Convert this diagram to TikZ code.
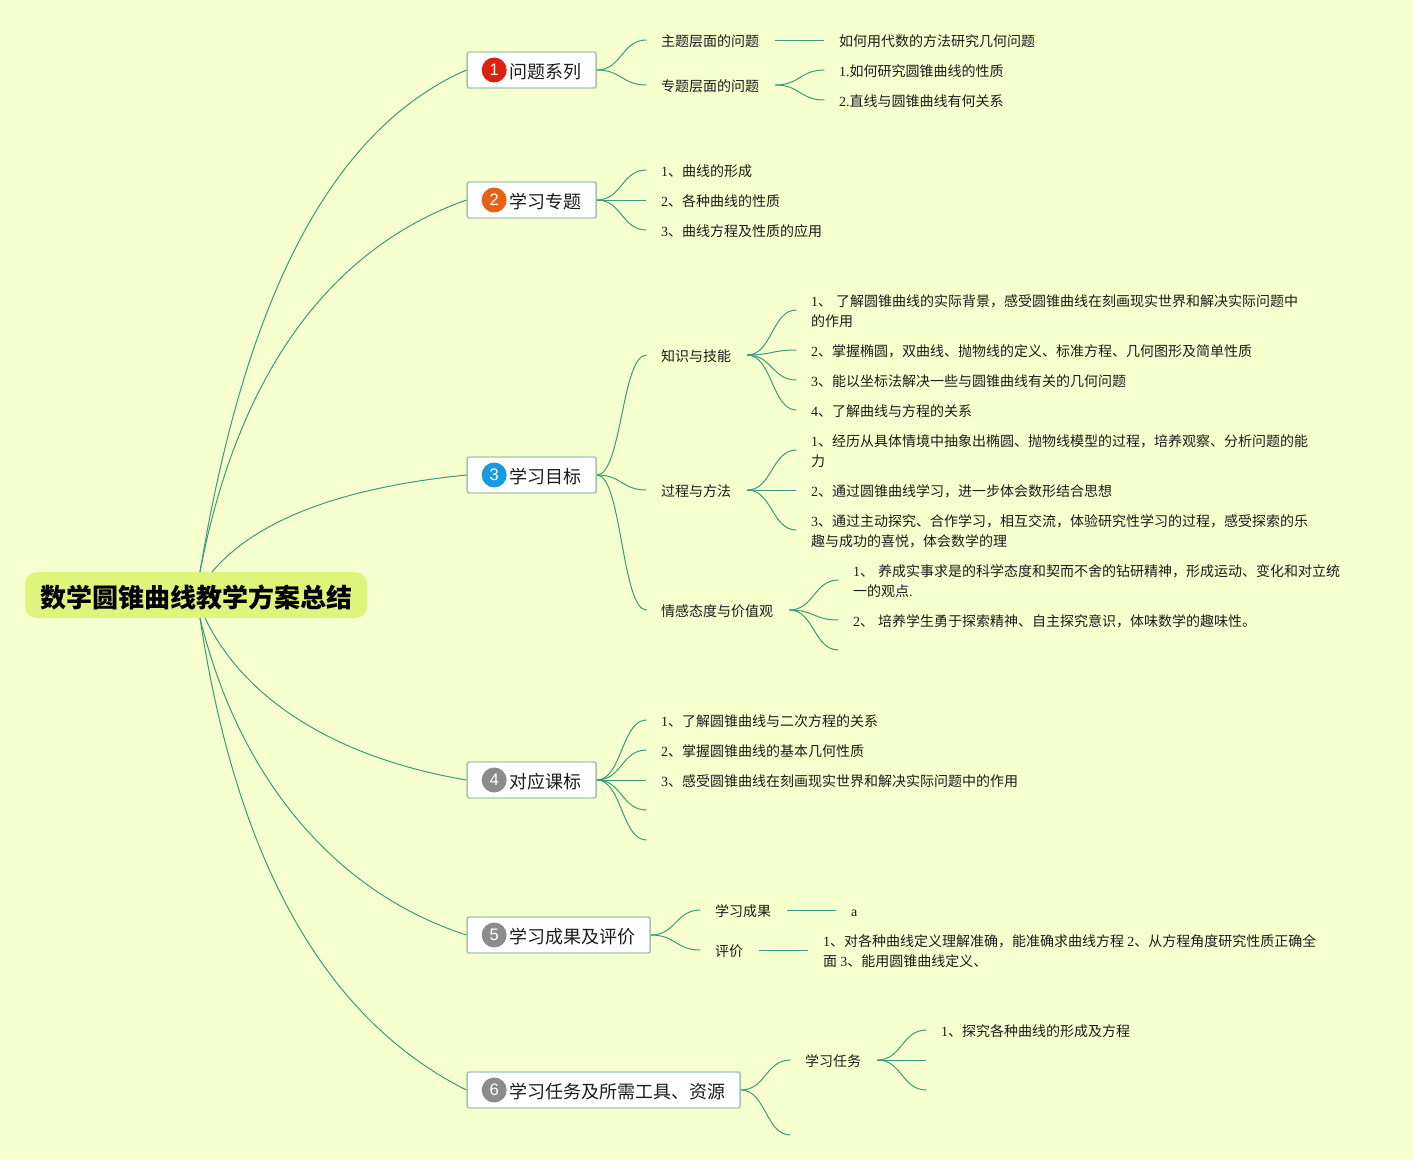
\documentclass[tikz,border=0pt]{standalone}
\usepackage{fontspec}
\usetikzlibrary{calc}
\setmainfont{Noto Sans CJK SC}
\newfontfamily\cjk{Noto Sans CJK SC}
\newfontfamily\lat{Liberation Serif}
\newfontfamily\badgefont{Liberation Sans}
\newcommand{\ltn}[1]{{\lat #1}}
\definecolor{bgc}{HTML}{F6FFCE}
\definecolor{rootc}{HTML}{DEF47A}
\definecolor{linec}{HTML}{3F9A7C}
\definecolor{boxline}{HTML}{A2C5B2}
\definecolor{txt}{HTML}{1C1C1C}
\newcommand{\linkc}[2]{\draw[conn] let \p1=(#1),\p2=(#2),\n1={0.5*\x1+0.5*\x2} in (\p1) .. controls (\n1,\y1) and (\n1,\y2) .. (\p2);}
\tikzset{
 conn/.style={draw=linec,line width=0.75pt},
 rootnode/.style={fill=rootc,rounded corners=9pt,minimum width=256.5pt,minimum height=34.5pt,inner sep=0pt,text height=20pt,text depth=1.8pt,font=\cjk\bfseries\fontsize{19.5}{22}\selectfont,text=black},
 topic/.style={anchor=west,fill=white,draw=boxline,line width=1.1pt,rounded corners=1.5pt,minimum height=27pt,inner xsep=11.25pt,inner ysep=0pt,text height=14.2pt,text depth=1pt,font=\cjk\fontsize{13.5}{16}\selectfont,text=txt},
 badge/.style={circle,minimum size=18.75pt,inner sep=0pt,text=white,font=\badgefont\fontsize{12.5}{12.5}\selectfont},
 lab/.style={anchor=west,inner xsep=10.8pt,inner ysep=0pt,align=left,text height=10pt,text depth=0.6pt,text=txt,font=\cjk\fontsize{10.5}{15}\selectfont},
 labtwo/.style={lab,text height=25pt},
 gapout/.style={xshift=1.2pt},
}
\newcommand{\gap}{\hspace*{20.25pt}}
\begin{document}
\begin{tikzpicture}[x=0.75pt,y=-0.75pt]
\useasboundingbox[fill=bgc] (0,0) rectangle (1413,1160);
% root
\node[rootnode] (root) at (196.3,595) {数学圆锥曲线教学方案总结};
\coordinate (ru) at (200,572);
\coordinate (ru3) at (212,572);
\coordinate (rd) at (200,618);
\coordinate (rd4) at (205,618);
\begin{scope}[xshift=-0.4pt]
% topics
\node[topic] (t1) at (467,70) {\gap 问题系列};
\node[topic] (t2) at (467,200) {\gap 学习专题};
\node[topic] (t3) at (467,475) {\gap 学习目标};
\node[topic] (t4) at (467,780) {\gap 对应课标};
\node[topic] (t5) at (467,935) {\gap 学习成果及评价};
\node[topic] (t6) at (467,1090) {\gap 学习任务及所需工具、资源};
\node[badge,fill={rgb,255:red,222;green,32;blue,14}] (b1) at (494.7,70) {1};
\node[badge,fill={rgb,255:red,230;green,98;blue,18}] (b2) at (494.7,200) {2};
\node[badge,fill={rgb,255:red,24;green,154;blue,224}] (b3) at (494.7,475) {3};
\node[badge,fill=gray!90] (b4) at (494.7,780) {4};
\node[badge,fill=gray!90] (b5) at (494.7,935) {5};
\node[badge,fill=gray!90] (b6) at (494.7,1090) {6};
% root curves
\draw[conn] (ru) .. controls (245,302) and (330,130) .. (t1.west);
\draw[conn] (ru) .. controls (240,365) and (337,246) .. (t2.west);
\draw[conn] (ru3) .. controls (258,518) and (347,487) .. (t3.west);
\draw[conn] (rd4) .. controls (245,700) and (337,758) .. (t4.west);
\draw[conn] (rd) .. controls (240,780) and (337,893) .. (t5.west);
\draw[conn] (rd) .. controls (240,880) and (337,1025) .. (t6.west);
% topic 1
\node[lab] (a1) at (647,40) {主题层面的问题};
\node[lab] (a2) at (647,85) {专题层面的问题};
\node[lab] (a11) at (825,40) {如何用代数的方法研究几何问题};
\node[lab] (a21) at (825,70) {\ltn{1.}如何研究圆锥曲线的性质};
\node[lab] (a22) at (825,100) {\ltn{2.}直线与圆锥曲线有何关系};
\linkc{t1.east}{a1.west}\linkc{t1.east}{a2.west}
\linkc{[gapout]a1.east}{a11.west}
\linkc{[gapout]a2.east}{a21.west}\linkc{[gapout]a2.east}{a22.west}
% topic 2
\node[lab] (b21) at (647,170) {\ltn{1}、曲线的形成};
\node[lab] (b22) at (647,200) {\ltn{2}、各种曲线的性质};
\node[lab] (b23) at (647,230) {\ltn{3}、曲线方程及性质的应用};
\linkc{t2.east}{b21.west}\linkc{t2.east}{b22.west}\linkc{t2.east}{b23.west}
% topic 3
\node[lab] (c1) at (647,355) {知识与技能};
\node[lab] (c2) at (647,490) {过程与方法};
\node[lab] (c3) at (647,610) {情感态度与价值观};
\linkc{t3.east}{c1.west}\linkc{t3.east}{c2.west}\linkc{t3.east}{c3.west}
\node[labtwo] (c11) at (797,310) {\ltn{1}、\hspace{3pt}了解圆锥曲线的实际背景，感受圆锥曲线在刻画现实世界和解决实际问题中\\的作用};
\node[lab] (c12) at (797,350) {\ltn{2}、掌握椭圆，双曲线、抛物线的定义、标准方程、几何图形及简单性质};
\node[lab] (c13) at (797,380) {\ltn{3}、能以坐标法解决一些与圆锥曲线有关的几何问题};
\node[lab] (c14) at (797,410) {\ltn{4}、了解曲线与方程的关系};
\linkc{[gapout]c1.east}{c11.west}\linkc{[gapout]c1.east}{c12.west}\linkc{[gapout]c1.east}{c13.west}\linkc{[gapout]c1.east}{c14.west}
\node[labtwo] (c21) at (797,450) {\ltn{1}、经历从具体情境中抽象出椭圆、抛物线模型的过程，培养观察、分析问题的能\\力};
\node[lab] (c22) at (797,490) {\ltn{2}、通过圆锥曲线学习，进一步体会数形结合思想};
\node[labtwo] (c23) at (797,530) {\ltn{3}、通过主动探究、合作学习，相互交流，体验研究性学习的过程，感受探索的乐\\趣与成功的喜悦，体会数学的理};
\linkc{[gapout]c2.east}{c21.west}\linkc{[gapout]c2.east}{c22.west}\linkc{[gapout]c2.east}{c23.west}
\node[labtwo] (c31) at (839,580) {\ltn{1}、\hspace{3pt}养成实事求是的科学态度和契而不舍的钻研精神，形成运动、变化和对立统\\一的观点\ltn{.}};
\node[lab] (c32) at (839,620) {\ltn{2}、\hspace{3pt}培养学生勇于探索精神、自主探究意识，体味数学的趣味性。};
\coordinate (c33) at (839,650);
\linkc{[gapout]c3.east}{c31.west}\linkc{[gapout]c3.east}{c32.west}\linkc{[gapout]c3.east}{c33}
% topic 4
\node[lab] (d1) at (647,720) {\ltn{1}、了解圆锥曲线与二次方程的关系};
\node[lab] (d2) at (647,750) {\ltn{2}、掌握圆锥曲线的基本几何性质};
\node[lab] (d3) at (647,780) {\ltn{3}、感受圆锥曲线在刻画现实世界和解决实际问题中的作用};
\coordinate (d4) at (647,810);
\coordinate (d5) at (647,840);
\linkc{t4.east}{d1.west}\linkc{t4.east}{d2.west}\linkc{t4.east}{d3.west}\linkc{t4.east}{d4}\linkc{t4.east}{d5}
% topic 5
\node[lab] (e1) at (701,910) {学习成果};
\node[lab] (e2) at (701,950) {评价};
\node[lab] (e11) at (837,910) {\ltn{a}};
\node[labtwo] (e21) at (809,950) {\ltn{1}、对各种曲线定义理解准确，能准确求曲线方程 \ltn{2}、从方程角度研究性质正确全\\面 \ltn{3}、能用圆锥曲线定义、};
\linkc{t5.east}{e1.west}\linkc{t5.east}{e2.west}
\linkc{[gapout]e1.east}{e11.west}\linkc{[gapout]e2.east}{e21.west}
% topic 6
\node[lab] (f1) at (791,1060) {学习任务};
\coordinate (f2) at (791,1135);
\node[lab] (f11) at (927,1030) {\ltn{1}、探究各种曲线的形成及方程};
\coordinate (f12) at (927,1060);
\coordinate (f13) at (927,1090);
\linkc{t6.east}{f1.west}\linkc{t6.east}{f2}
\linkc{[gapout]f1.east}{f11.west}\linkc{[gapout]f1.east}{f12}\linkc{[gapout]f1.east}{f13}
\end{scope}
\end{tikzpicture}
\end{document}
